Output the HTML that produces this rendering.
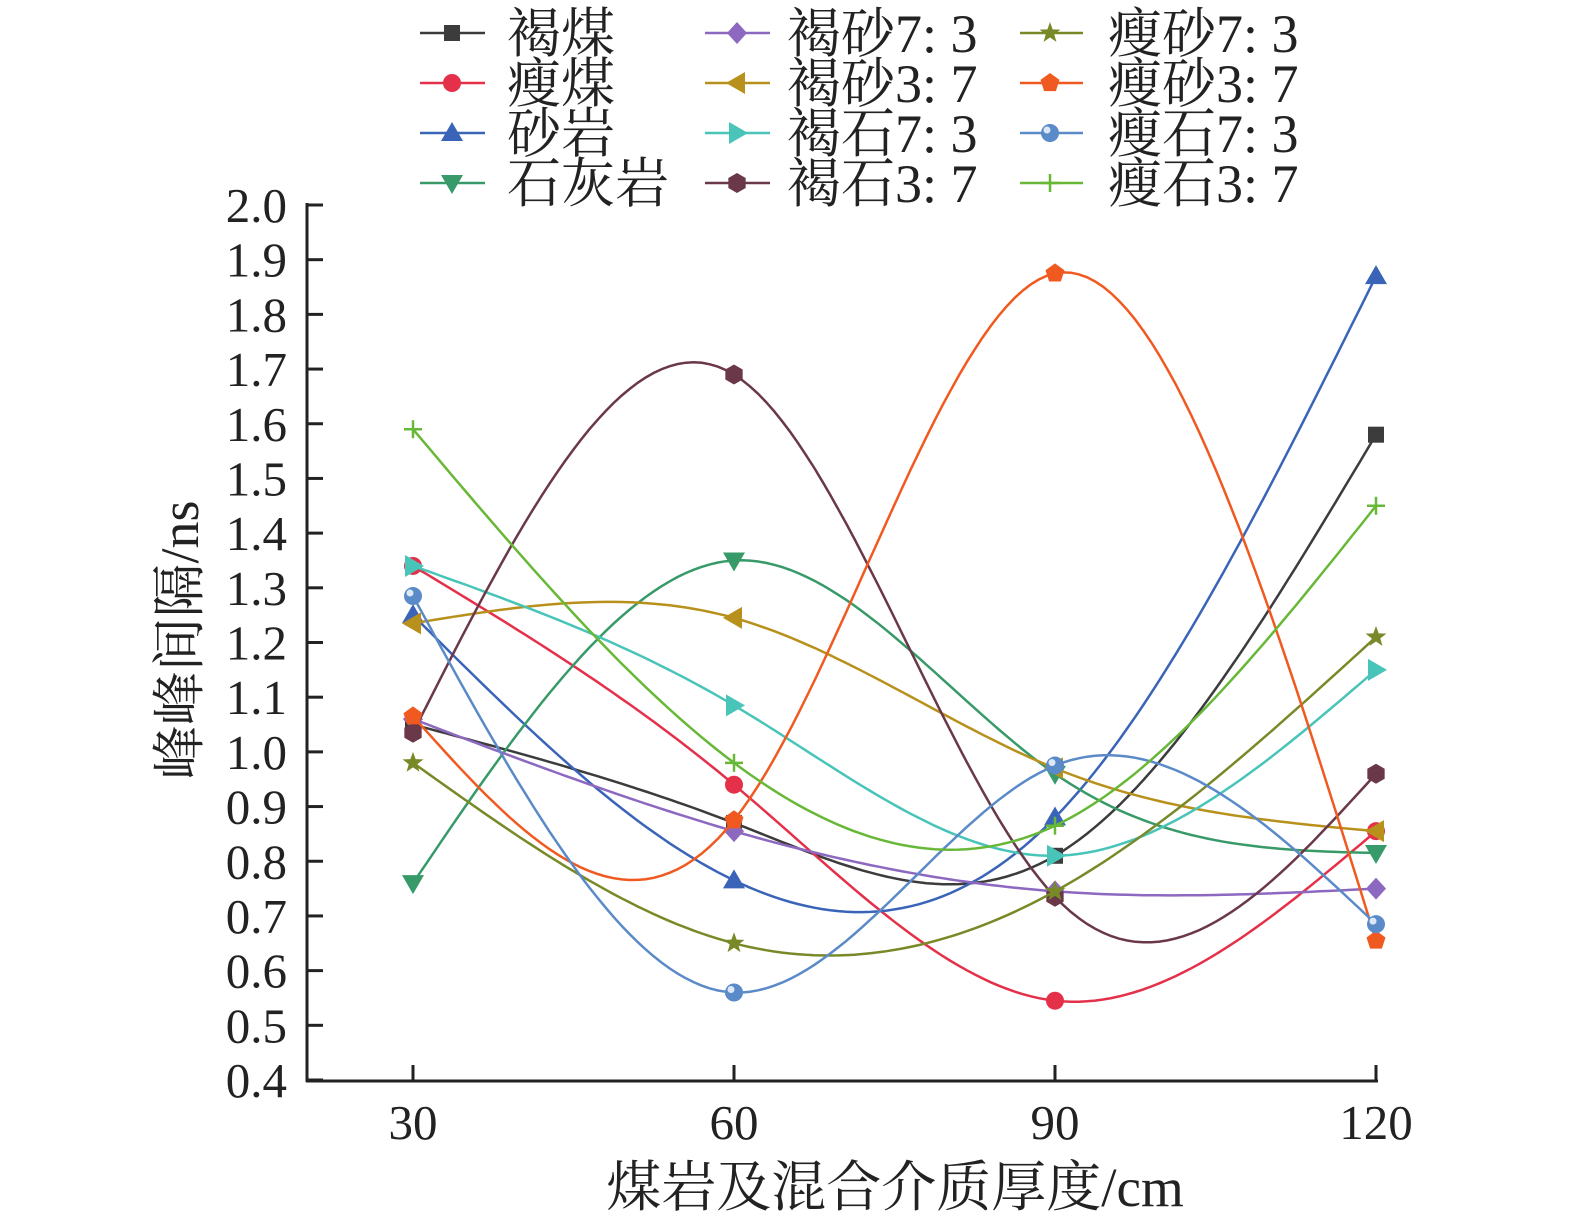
<!DOCTYPE html>
<html><head><meta charset="utf-8"><style>
body{margin:0;background:#fff;}
svg{display:block;font-family:"Liberation Serif","Noto Serif CJK SC",serif;}
</style></head><body>
<svg id="chart" width="1575" height="1227" viewBox="0 0 1575 1227"></svg>
<script>
const categories=[30,60,90,120];
const seriesNames=["褐煤","瘦煤","砂岩","石灰岩","褐砂7: 3","褐砂3: 7","褐石7: 3","褐石3: 7","瘦砂7: 3","瘦砂3: 7","瘦石7: 3","瘦石3: 7"];
const s0=[1.05,0.87,0.81,1.58];
const s1=[1.34,0.94,0.545,0.855];
const s2=[1.25,0.765,0.88,1.87];
const s3=[0.76,1.35,0.96,0.815];
const s4=[1.06,0.855,0.745,0.75];
const s5=[1.235,1.245,0.97,0.855];
const s6=[1.34,1.085,0.81,1.15];
const s7=[1.035,1.69,0.735,0.96];
const s8=[0.98,0.65,0.745,1.21];
const s9=[1.065,0.875,1.875,0.655];
const s10=[1.285,0.56,0.975,0.685];
const s11=[1.59,0.98,0.865,1.45];
const yTicks=[0.4,0.5,0.6,0.7,0.8,0.9,1.0,1.1,1.2,1.3,1.4,1.5,1.6,1.7,1.8,1.9,2.0];
const series=[s0,s1,s2,s3,s4,s5,s6,s7,s8,s9,s10,s11];
const colors=["#3c3c3c","#e5304a","#3a64b8","#389a68","#8d68c0","#b8901c","#48c4b8","#6a3848","#788a28","#f05a20","#5a8ac8","#68b838"];
const markers=["square","circle","tri-up","tri-down","diamond","tri-left","tri-right","hexagon","star","pentagon","sphere","plus"];
const NS="http://www.w3.org/2000/svg";
const svg=document.getElementById('chart');
const X0=307,Y0=1081;
const xs=v=>413+(v-30)*(1376-413)/90;
const ys=v=>1080-(v-0.4)*(1080-205)/1.6;
function el(t,a,p){const e=document.createElementNS(NS,t);for(const k in a)e.setAttribute(k,a[k]);(p||svg).appendChild(e);return e;}
const ax=el('g',{});


el('line',{x1:X0,y1:203,x2:X0,y2:Y0+1,stroke:'#222','stroke-width':3},ax);
el('line',{x1:X0-1,y1:Y0,x2:1378,y2:Y0,stroke:'#222','stroke-width':3},ax);
yTicks.forEach(v=>{
  const y=ys(v);
  el('line',{x1:X0,y1:y,x2:X0+16,y2:y,stroke:'#222','stroke-width':3},ax);
  const t=el('text',{x:287,y:y+17,'text-anchor':'end','font-size':49,fill:'#222'},ax);
  t.textContent=v.toFixed(1);
  
  
});
categories.forEach(c=>{
  const x=xs(c);
  el('line',{x1:x,y1:Y0,x2:x,y2:Y0-16,stroke:'#222','stroke-width':3},ax);
  const t=el('text',{x:x,y:1139,'text-anchor':'middle','font-size':49,fill:'#222'},ax);
  t.textContent=c;
  
  
});
const xt=el('text',{x:895,y:1206,'text-anchor':'middle','font-size':55,fill:'#222'});
xt.textContent='煤岩及混合介质厚度/cm';


const yt=el('text',{x:0,y:0,'text-anchor':'middle','font-size':54,fill:'#222',transform:'translate(198,640) rotate(-90)'});
yt.textContent='峰峰间隔/ns';


function spline(vals){
  const n=vals.length,M=new Array(n).fill(0);
  const a=[],b=[],c=[],d=[];
  for(let i=1;i<n-1;i++){a.push(1);b.push(4);c.push(1);d.push(6*(vals[i+1]-2*vals[i]+vals[i-1]));}
  const m=b.length;
  for(let i=1;i<m;i++){const w=a[i]/b[i-1];b[i]-=w*c[i-1];d[i]-=w*d[i-1];}
  const sol=new Array(m);
  for(let i=m-1;i>=0;i--){sol[i]=(d[i]-(i<m-1?c[i]*sol[i+1]:0))/b[i];}
  for(let i=0;i<m;i++)M[i+1]=sol[i];
  const pts=[];
  for(let i=0;i<n-1;i++){
    for(let k=0;k<=40;k++){
      const t=k/40;
      const y=(1-t)*vals[i]+t*vals[i+1]+((Math.pow(1-t,3)-(1-t))*M[i]+(Math.pow(t,3)-t)*M[i+1])/6;
      const xv=categories[i]+t*(categories[i+1]-categories[i]);
      pts.push(xs(xv).toFixed(1)+','+ys(y).toFixed(1));
    }
  }
  return 'M'+pts.join('L');
}
function marker(type,x,y,col,g){
  const r=9;
  switch(type){
    case 'square':return el('rect',{x:x-8,y:y-8,width:16,height:16,fill:col},g);
    case 'circle':return el('circle',{cx:x,cy:y,r:r,fill:col},g);
    case 'tri-up':return el('polygon',{points:`${x},${y-11} ${x+11},${y+8} ${x-11},${y+8}`,fill:col},g);
    case 'tri-down':return el('polygon',{points:`${x},${y+11} ${x+11},${y-8} ${x-11},${y-8}`,fill:col},g);
    case 'tri-left':return el('polygon',{points:`${x-11},${y} ${x+8},${y-11} ${x+8},${y+11}`,fill:col},g);
    case 'tri-right':return el('polygon',{points:`${x+11},${y} ${x-8},${y-11} ${x-8},${y+11}`,fill:col},g);
    case 'diamond':return el('polygon',{points:`${x},${y-11} ${x+10},${y} ${x},${y+11} ${x-10},${y}`,fill:col},g);
    case 'hexagon':{let p=[];for(let i=0;i<6;i++){const a=Math.PI/6+i*Math.PI/3;p.push((x+10*Math.cos(a))+','+(y+10*Math.sin(a)));}return el('polygon',{points:p.join(' '),fill:col},g);}
    case 'pentagon':{let p=[];for(let i=0;i<5;i++){const a=-Math.PI/2+i*2*Math.PI/5;p.push((x+10*Math.cos(a))+','+(y+10*Math.sin(a)));}return el('polygon',{points:p.join(' '),fill:col},g);}
    case 'star':{let p=[];for(let i=0;i<10;i++){const a=-Math.PI/2+i*Math.PI/5,rr=i%2?4.5:11;p.push((x+rr*Math.cos(a))+','+(y+rr*Math.sin(a)));}return el('polygon',{points:p.join(' '),fill:col},g);}
    case 'sphere':{el('circle',{cx:x,cy:y,r:9,fill:col},g);return el('circle',{cx:x-3,cy:y-3,r:3.5,fill:'#dde8f6'},g);}
    case 'plus':{el('line',{x1:x-9,y1:y,x2:x+9,y2:y,stroke:col,'stroke-width':2.5},g);return el('line',{x1:x,y1:y-9,x2:x,y2:y+9,stroke:col,'stroke-width':2.5},g);}
  }
}
series.forEach((vals,si)=>{
  const g=el('g',{});
  
  
  const p=el('path',{d:spline(vals),fill:'none',stroke:colors[si],'stroke-width':2.5},g);
  
  
  vals.forEach((v,i)=>{
    const m=marker(markers[si],xs(categories[i]),ys(v),colors[si],g);
    
    
  });
});
const lg=el('g',{});


const colX=[[420,452,485,507],[705,737,770,787],[1020,1050,1083,1108]];
let idx=0;
for(let c=0;c<3;c++){
  for(let r=0;r<4;r++){
    const si=idx++;
    const y=33+r*50;
    const e=el('g',{},lg);
    
    
    el('line',{x1:colX[c][0],y1:y,x2:colX[c][2],y2:y,stroke:colors[si],'stroke-width':2.5},e);
    marker(markers[si],colX[c][1],y,colors[si],e);
    const t=el('text',{x:colX[c][3],y:y+19,'font-size':54,fill:'#222'},e);
    t.textContent=seriesNames[si];
  }
}
</script>
</body></html>
